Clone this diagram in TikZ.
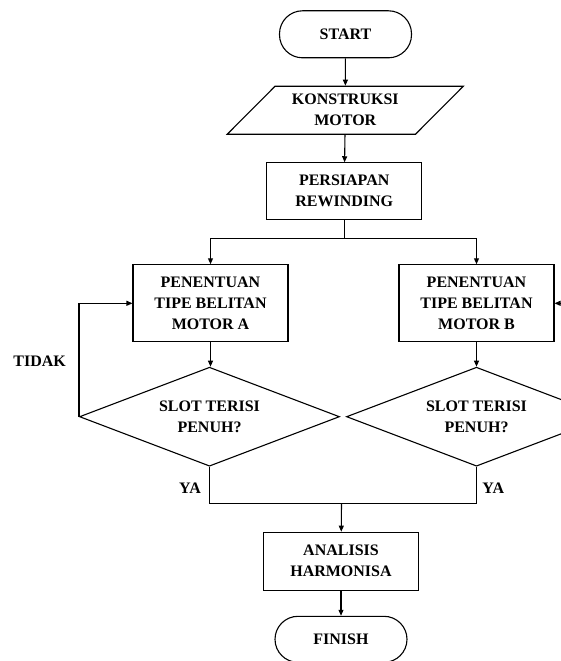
\documentclass[tikz,border=0pt]{standalone}
\usepackage{fontspec}
\setmainfont{Liberation Serif}
\usetikzlibrary{shapes.geometric,arrows.meta}
\begin{document}
\begin{tikzpicture}[x=1pt,y=-1pt,
    font=\fontsize{16}{21}\selectfont\bfseries,
    every node/.style={align=center,inner sep=1pt},
    flowline/.style={line width=1.1pt},
    flowarrow/.style={flowline,-{Triangle[length=6pt,width=5pt]}},
    terminal/.style={draw,line width=1.1pt,rectangle,rounded corners=23pt,minimum width=132pt,minimum height=47pt},
    process/.style={draw,line width=1.1pt,rectangle,minimum width=155pt},
    inputbox/.style={draw,line width=1.1pt,trapezium,trapezium left angle=45,trapezium right angle=135,trapezium stretches body,inner ysep=8pt,minimum width=236pt,minimum height=48pt},
    decision/.style={draw,line width=1.1pt,diamond,aspect=2.6,minimum width=260pt,minimum height=99pt}]
  \pgfmathsetmacro{\colA}{210.5}
  \pgfmathsetmacro{\colB}{476.5}
  \useasboundingbox (0,0) rectangle (561,661);
  \clip (0,0) rectangle (561,661);
  \node[terminal] (start) at (345.5,34.3) {START};
  \node[inputbox] (konstruksi) at (345.3,110.2) {KONSTRUKSI\\MOTOR};
  \node[process,minimum height=57pt] (persiapan) at (344.2,191.3) {PERSIAPAN\\REWINDING};
  \coordinate (split) at (344.2,238.3);
  \node[process,minimum height=77pt] (motorA) at (\colA,303.3) {PENENTUAN\\TIPE BELITAN\\MOTOR A};
  \node[process,minimum height=77pt] (motorB) at (\colB,303.3) {PENENTUAN\\TIPE BELITAN\\MOTOR B};
  \node[decision] (slotA) at (\colA-1,416.7) {SLOT TERISI\\PENUH?};
  \node[decision] (slotB) at (\colB,416.7) {SLOT TERISI\\PENUH?};
  \coordinate (merge) at (341.5,503.3);
  \node[process,minimum height=58pt] (analisis) at (341,561.2) {ANALISIS\\HARMONISA};
  \node[terminal,minimum height=46pt] (finish) at (341,639.3) {FINISH};
  \node (tidak) at (39.7,361) {TIDAK};
  \node (yaA) at (190,488) {YA};
  \node (yaB) at (493.3,488.3) {YA};
  \draw[flowarrow] (start) -- (konstruksi);
  \draw[flowarrow] (konstruksi) -- (persiapan);
  \draw[flowline] (persiapan) -- (split);
  \draw[flowarrow] (split) -| (motorA.north);
  \draw[flowarrow] (split) -| (motorB.north);
  \draw[flowarrow] (motorA) -- (motorA |- slotA.north);
  \draw[flowarrow] (motorB) -- (slotB);
  \draw[flowarrow] (slotA.west) |- (motorA.west);
  \draw[flowarrow] (slotB.east) |- (motorB.east);
  \draw[flowline] (slotA.south) |- (merge) -| (slotB.south);
  \draw[flowarrow] (merge) -- (analisis);
  \draw[flowarrow] (analisis) -- (finish);
\end{tikzpicture}
\end{document}
